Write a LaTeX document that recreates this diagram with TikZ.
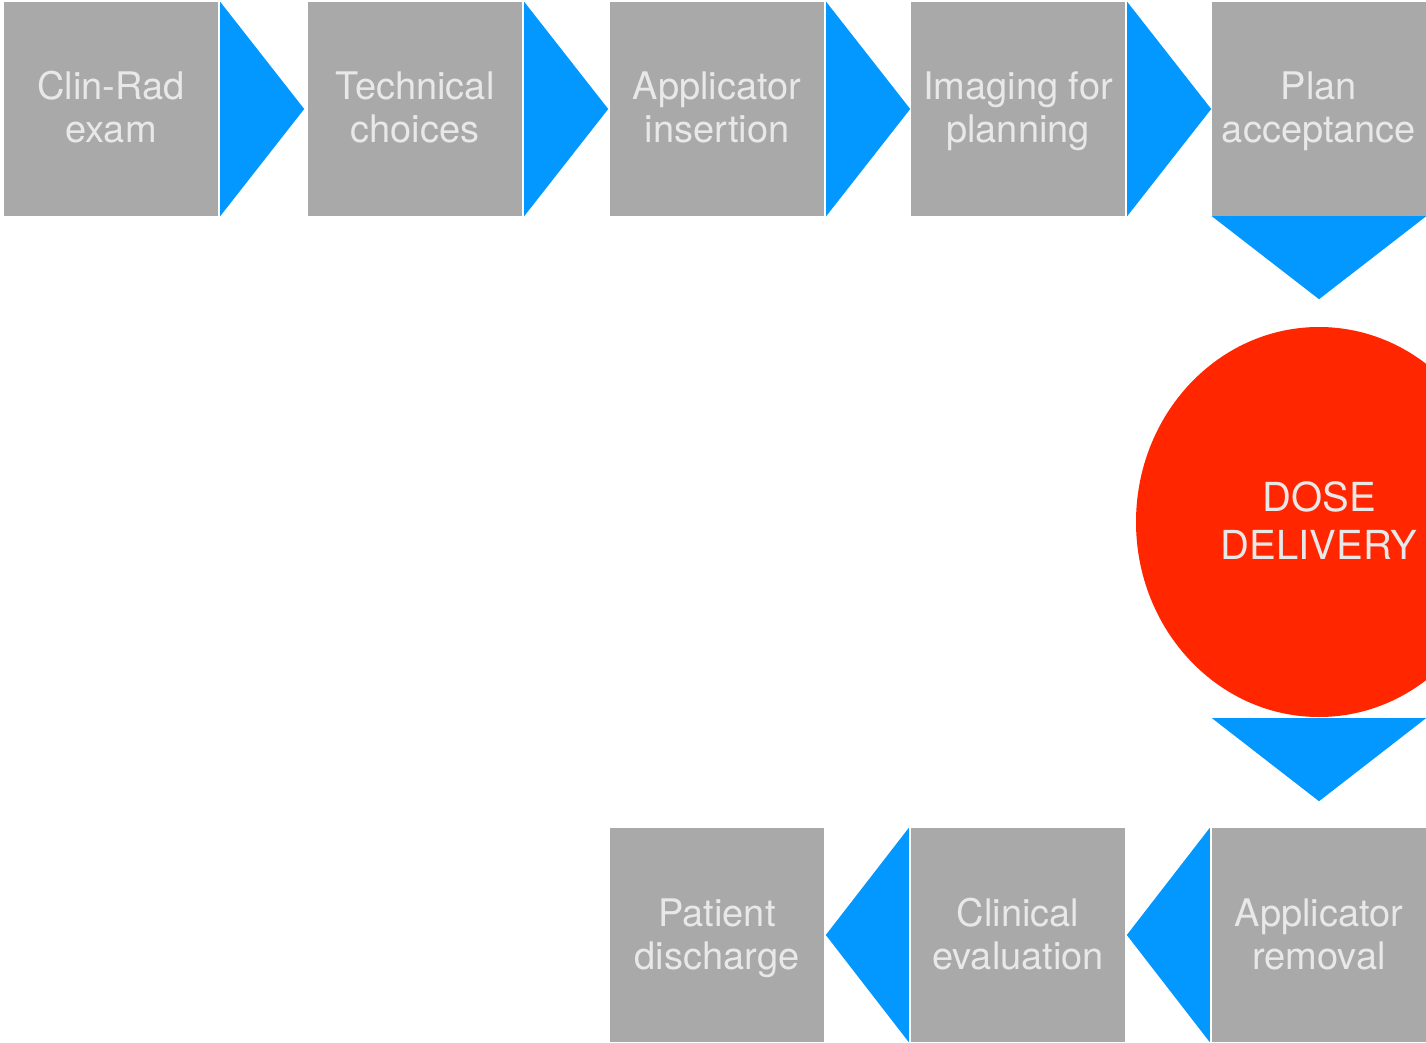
\documentclass[tikz,border=0pt]{standalone}
\usepackage{fontspec}
\setmainfont{TeX Gyre Heros}
\usetikzlibrary{calc,shapes.geometric}
\definecolor{boxgray}{HTML}{A9A9A9}
\definecolor{arrowblue}{HTML}{0398FF}
\definecolor{dosered}{HTML}{FF2600}
\definecolor{textgray}{HTML}{E8E8E8}
\newcommand{\bxs}{\rule[-9pt]{0pt}{43pt}}
\newcommand{\dss}{\rule[-6pt]{0pt}{39pt}}
\begin{document}
\begin{tikzpicture}[x=1pt,y=-1pt,
  stepbox/.style={fill=boxgray, minimum width=214pt, minimum height=214pt, inner sep=0pt,
    text=textgray, align=center, font=\fontsize{38}{43}\selectfont},
  doseshape/.style={ellipse, fill=dosered, minimum width=366pt, minimum height=390pt, inner sep=0pt,
    text=textgray, align=center, font=\fontsize{40}{47.5}\selectfont},
  flowtri/.style={fill=arrowblue}]
\useasboundingbox (0,0) rectangle (1426,1043);
\clip (0,0) rectangle (1426,1043);
% top row
\node[stepbox] (b1) at (111,109) {\bxs Clin-Rad\\\bxs exam};
\node[stepbox] (b2) at (415,109) {\bxs Technical\\\bxs choices};
\node[stepbox] (b3) at (717,109) {\bxs Applicator\\\bxs insertion};
\node[stepbox] (b4) at (1018,109) {\bxs Imaging for\\\bxs planning};
\node[stepbox] (b5) at (1319,109) {\bxs Plan\\\bxs acceptance};
% dose
\node[doseshape] (dose) at (1319,522) {\dss DOSE\\\dss DELIVERY};
% bottom row
\node[stepbox] (b6) at (1319,935) {\bxs Applicator\\\bxs removal};
\node[stepbox] (b7) at (1018,935) {\bxs Clinical\\\bxs evaluation};
\node[stepbox] (b8) at (717,935) {\bxs Patient\\\bxs discharge};
% right-pointing triangles
\foreach \n in {b1,b2,b3,b4}{
  \fill[flowtri] ($(\n.north east)+(2,0)$) -- ($(\n.east)+(86,0)$) -- ($(\n.south east)+(2,0)$) -- cycle;
}
% down triangles
\fill[flowtri] (b5.south west) -- ($(b5.south)+(0,83)$) -- (b5.south east) -- cycle;
\fill[flowtri] ($(dose.south)+(-107,1)$) -- ($(dose.south)+(0,84)$) -- ($(dose.south)+(107,1)$) -- cycle;
% left-pointing triangles
\foreach \n in {b6,b7}{
  \fill[flowtri] ($(\n.north west)+(-2,0)$) -- ($(\n.west)+(-85,0)$) -- ($(\n.south west)+(-2,0)$) -- cycle;
}
\end{tikzpicture}
\end{document}
